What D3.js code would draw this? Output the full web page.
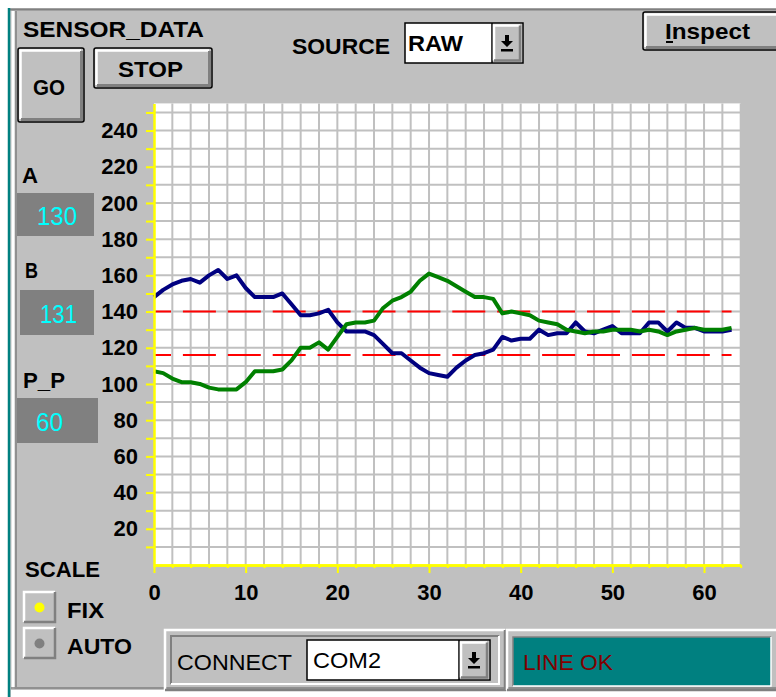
<!DOCTYPE html>
<html>
<head>
<meta charset="utf-8">
<title>SENSOR_DATA</title>
<script src="https://d3js.org/d3.v7.min.js"></script>
<style>
  body { margin: 0; background: #c0c0c0; }
  svg text { font-family: "Liberation Sans", Arial, sans-serif; }
</style>
</head>
<body>
<div id="panel"></div>
<script>
// sample values, one per sample index 0..63
var sensorA = [148,152,155,157,158,156,160,163,158,160,153,148,148,148,150,144,
               138,138,139,141,134,129,129,129,127,122,117,117,113,109,106,105,
               104,109,113,116,117,119,126,124,125,125,130,127,128,128,134,129,
               128,130,132,128,128,128,134,134,129,134,131,131,129,129,129,130];
var sensorB = [107,106,103,101,101,100,98,97,97,97,101,107,107,107,108,113,
               120,120,123,119,126,133,134,134,135,142,146,148,151,157,161,159,
               157,154,151,148,148,147,139,140,139,138,135,134,133,130,129,128,
               129,129,130,130,130,129,130,129,127,129,130,131,130,130,130,131];
var limits = [140, 116];
var xTickLabels = [0, 10, 20, 30, 40, 50, 60];
var yTickLabels = [20, 40, 60, 80, 100, 120, 140, 160, 180, 200, 220, 240];
var readoutNames = ["A", "B", "P_P"];
var readoutValues = [130, 131, 60];

var W = 776, H = 697;
var svg = d3.select("#panel").append("svg")
  .attr("width", W).attr("height", H);

svg.append("rect").attr("width", W).attr("height", H).attr("fill", "#c0c0c0");

// window frame
svg.append("rect").attr("x", 0).attr("y", 0).attr("width", W).attr("height", 8).attr("fill", "#fff");
svg.append("rect").attr("x", 0).attr("y", 0).attr("width", 8).attr("height", H).attr("fill", "#fff");
svg.append("line").attr("x1", 10).attr("x2", W).attr("y1", 9.5).attr("y2", 9.5).attr("stroke", "#808080").attr("stroke-width", 2);
svg.append("line").attr("x1", 9).attr("x2", 9).attr("y1", 8).attr("y2", H).attr("stroke", "#008080").attr("stroke-width", 2.5);
svg.append("line").attr("x1", 13).attr("x2", 13).attr("y1", 11).attr("y2", 689).attr("stroke", "#fff").attr("stroke-width", 3);
svg.append("line").attr("x1", 16).attr("x2", 16).attr("y1", 11).attr("y2", 687).attr("stroke", "#808080").attr("stroke-width", 1.5);
svg.append("line").attr("x1", 11).attr("x2", W).attr("y1", 688).attr("y2", 688).attr("stroke", "#808080").attr("stroke-width", 1.5);
svg.append("rect").attr("x", 11).attr("y", 690).attr("width", W).attr("height", 7).attr("fill", "#fff");

function label(txt, x, y, size, opts) {
  opts = opts || {};
  var t = svg.append("text").attr("x", x).attr("y", y).text(txt)
    .attr("font-size", size)
    .attr("font-weight", opts.weight || "bold")
    .attr("fill", opts.fill || "#000")
    .attr("text-anchor", opts.anchor || "start");
  if (opts.len) t.attr("textLength", opts.len).attr("lengthAdjust", "spacingAndGlyphs");
  return t;
}

function button(x, y, w, h) {
  svg.append("rect").attr("x", x).attr("y", y).attr("width", w).attr("height", h)
    .attr("rx", 2).attr("fill", "#c0c0c0").attr("stroke", "#000").attr("stroke-width", 1.5);
  svg.append("path").attr("d", "M" + (x + 2.5) + "," + (y + h - 3) + "V" + (y + 2.5) + "H" + (x + w - 3))
    .attr("fill", "none").attr("stroke", "#fff").attr("stroke-width", 2.5);
  svg.append("path").attr("d", "M" + (x + 3) + "," + (y + h - 2.5) + "H" + (x + w - 2.5) + "V" + (y + 3))
    .attr("fill", "none").attr("stroke", "#808080").attr("stroke-width", 3);
}

function bevel(x, y, w, h, light, dark, sw) {
  svg.append("path").attr("d", "M" + x + "," + (y + h) + "V" + y + "H" + (x + w))
    .attr("fill", "none").attr("stroke", light).attr("stroke-width", sw);
  svg.append("path").attr("d", "M" + x + "," + (y + h) + "H" + (x + w) + "V" + y)
    .attr("fill", "none").attr("stroke", dark).attr("stroke-width", sw);
}

function dropdown(x, y, w, h, txt, tx, tlen, bold) {
  svg.append("rect").attr("x", x).attr("y", y).attr("width", w).attr("height", h)
    .attr("fill", "#fff").attr("stroke", "#000").attr("stroke-width", 1.5);
  var bx = x + w - 31;
  svg.append("rect").attr("x", bx).attr("y", y + 1).attr("width", 30).attr("height", h - 2).attr("fill", "#c0c0c0");
  svg.append("line").attr("x1", bx).attr("x2", bx).attr("y1", y).attr("y2", y + h).attr("stroke", "#000").attr("stroke-width", 1.5);
  bevel(bx + 2, y + 2.5, 26, h - 5, "#fff", "#808080", 2.5);
  var cx = bx + 15, cy = y + h / 2;
  svg.append("path")
    .attr("d", "M" + (cx - 2) + "," + (cy - 8) + "h4v6h4l-6,6l-6,-6h4z")
    .attr("fill", "#000");
  svg.append("rect").attr("x", cx - 6).attr("y", cy + 6).attr("width", 12).attr("height", 2.5).attr("fill", "#000");
  label(txt, tx, y + h / 2 + 8, 22, { weight: bold ? "bold" : "normal", len: tlen });
}

// top controls
label("SENSOR_DATA", 23, 37, 22, { len: 181 });
button(18, 48, 66, 74);
label("GO", 33, 95, 22, { len: 32 });
button(94, 48, 118, 40);
label("STOP", 118, 77, 22, { len: 65 });
label("SOURCE", 292, 54, 22, { len: 98 });
dropdown(405, 23, 118, 40, "RAW", 408, 55, true);
button(643, 12, 140, 38);
label("Inspect", 665, 39, 22, { len: 85 });
svg.append("rect").attr("x", 666).attr("y", 41).attr("width", 7).attr("height", 2).attr("fill", "#000");

// readouts
var readoutBox = [[17, 193, 77, 43], [20, 290, 74, 45], [17, 398, 81, 45]];
var nameX = [22, 25, 23], nameY = [183, 278, 388], nameLen = [16, 13, 42];
var valX = [37, 40, 36], valLen = [40, 37, 27];
readoutNames.forEach(function (n, i) {
  label(n, nameX[i], nameY[i], 22, { len: nameLen[i] });
  var b = readoutBox[i];
  svg.append("rect").attr("x", b[0]).attr("y", b[1]).attr("width", b[2]).attr("height", b[3]).attr("fill", "#808080");
  label(String(readoutValues[i]), valX[i], b[1] + b[3] / 2 + 10, 26, { weight: "normal", fill: "#00ffff", len: valLen[i] });
});

// chart
var x = d3.scaleLinear().domain([0, 64]).range([154, 740.7]);
var y = d3.scaleLinear().domain([0, 255]).range([565, 103.4]);

svg.append("rect").attr("x", x(0)).attr("y", y(255)).attr("width", x(64) - x(0)).attr("height", y(0) - y(255)).attr("fill", "#fff");

var grid = svg.append("g").attr("stroke", "#c0c0c0").attr("stroke-width", 2);
grid.selectAll(".vg").data(d3.range(2, 65, 2)).enter().append("line")
  .attr("x1", function (d) { return x(d); }).attr("x2", function (d) { return x(d); })
  .attr("y1", y(0)).attr("y2", y(255));
grid.selectAll(".hg").data(d3.range(10, 251, 10)).enter().append("line")
  .attr("y1", function (d) { return y(d); }).attr("y2", function (d) { return y(d); })
  .attr("x1", x(0)).attr("x2", x(64));

// limit lines
svg.selectAll(".limit").data(limits).enter().append("line")
  .attr("x1", x(0)).attr("x2", x(63))
  .attr("y1", function (d) { return y(d); }).attr("y2", function (d) { return y(d); })
  .attr("stroke", "#ff0000").attr("stroke-width", 2)
  .attr("stroke-dasharray", "33 11.9").attr("stroke-dashoffset", 16);

var line = d3.line().x(function (d, i) { return x(i); }).y(function (d) { return y(d); });
svg.append("path").datum(sensorA).attr("d", line)
  .attr("fill", "none").attr("stroke", "#000080").attr("stroke-width", 4).attr("stroke-linejoin", "round");
svg.append("path").datum(sensorB).attr("d", line)
  .attr("fill", "none").attr("stroke", "#008000").attr("stroke-width", 4).attr("stroke-linejoin", "round");

// axes
var yAxis = svg.append("g").attr("transform", "translate(" + x(0) + ",0)")
  .call(d3.axisLeft(y).tickValues(d3.range(10, 251, 10))
    .tickFormat(function (d) { return yTickLabels.indexOf(d) >= 0 ? d : ""; })
    .tickSize(8).tickSizeOuter(0).tickPadding(8));
var xMinor = svg.append("g").attr("transform", "translate(0," + y(0) + ")")
  .call(d3.axisBottom(x).tickValues(d3.range(0, 65, 2)).tickFormat("").tickSize(3).tickSizeOuter(0));
var xAxis = svg.append("g").attr("transform", "translate(0," + y(0) + ")")
  .call(d3.axisBottom(x).tickValues(xTickLabels).tickSize(8).tickSizeOuter(0).tickPadding(11));
[yAxis, xMinor, xAxis].forEach(function (a) {
  a.select(".domain").attr("stroke", "#ffff00").attr("stroke-width", 2.5);
  a.selectAll(".tick line").attr("stroke", "#ffff00").attr("stroke-width", 2);
  a.selectAll("text").attr("font-size", 22).attr("font-weight", "bold").attr("fill", "#000")
    .attr("font-family", "Liberation Sans, Arial, sans-serif");
});

// scale selector
label("SCALE", 25, 577, 22, { len: 75 });
var radios = [["FIX", 592, "#ffff00", 37], ["AUTO", 628, "#808080", 65]];
radios.forEach(function (r) {
  bevel(24, r[1], 31, 30, "#fff", "#808080", 2.5);
  svg.append("circle").attr("cx", 39.5).attr("cy", r[1] + 15.5).attr("r", 5).attr("fill", r[2]);
  label(r[0], 67, r[1] + 26, 22, { len: r[3] });
});

// connection bar
bevel(165, 630, 340, 60, "#fff", "#808080", 2.5);
bevel(171, 636, 328, 48, "#808080", "#fff", 2);
label("CONNECT", 177, 670, 22, { weight: "normal", len: 115 });
dropdown(307, 640, 183, 40, "COM2", 313, 68, false);
bevel(507, 630, 275, 60, "#fff", "#808080", 2.5);
svg.append("rect").attr("x", 513).attr("y", 637).attr("width", 258).attr("height", 49).attr("fill", "#008080");
bevel(513, 637, 258, 49, "#808080", "#fff", 1.5);
label("LINE OK", 523, 670, 22, { weight: "normal", fill: "#800000", len: 90 });
</script>
</body>
</html>
